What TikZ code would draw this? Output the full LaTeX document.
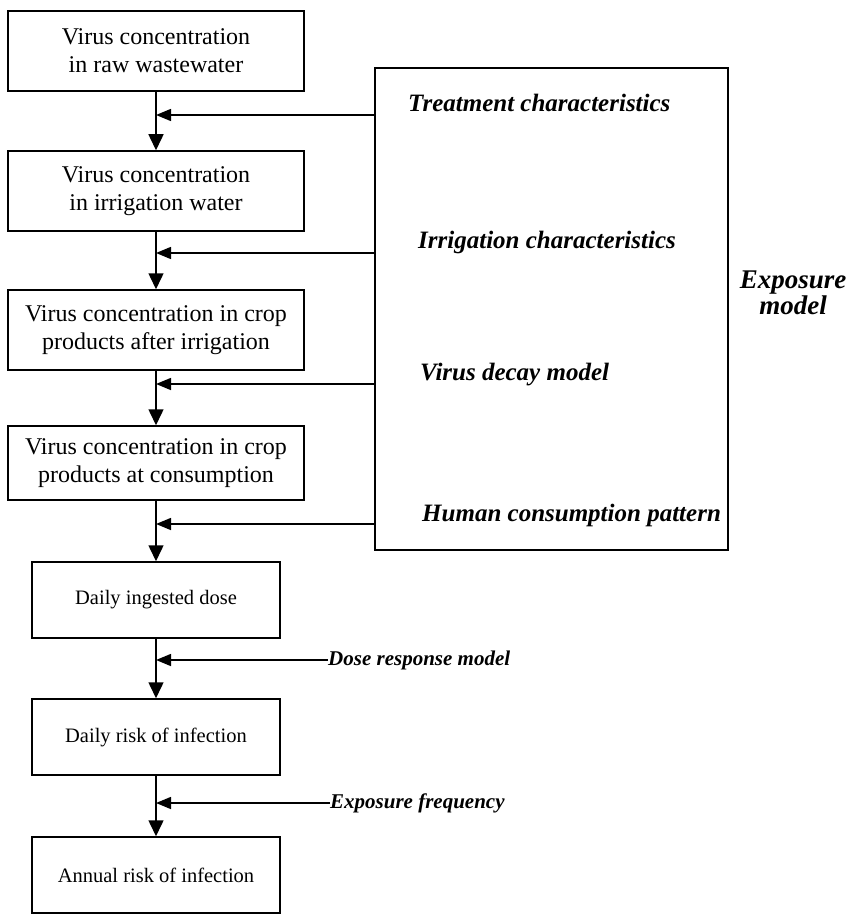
\documentclass[tikz,border=0pt]{standalone}
\usepackage{fontspec}
\setmainfont{Liberation Serif}
\usetikzlibrary{arrows.meta,calc}
\tikzstyle{stepbox}=[draw,line width=1.5pt,minimum width=296pt,minimum height=80pt,align=center,inner sep=0pt,font=\fontsize{24}{28}\selectfont]
\tikzstyle{smallbox}=[stepbox,minimum width=248pt,minimum height=76pt,font=\fontsize{20.5}{25}\selectfont]
\tikzstyle{flow}=[line width=1.5pt,-{Triangle[width=15pt,length=16pt]}]
\tikzstyle{feed}=[line width=1.5pt,-{Triangle[width=12pt,length=15pt]}]
\tikzstyle{factor}=[anchor=west,inner sep=0pt,font=\fontsize{25}{29}\selectfont\bfseries\itshape]
\tikzstyle{extfactor}=[factor,font=\fontsize{21}{25}\selectfont\bfseries\itshape]
\newcommand{\feedback}[3]{% Syntax: {name}{y of line}{box the arrow points at}
	\coordinate (#1) at (expo.west |- 0,#2);
	\draw[feed] (#1) -- (#1 -| #3);
}

\begin{document}
\begin{tikzpicture}[x=1pt,y=-1pt]
	\useasboundingbox (0,0) rectangle (851,917);
	% chain of steps
	\node[stepbox] (raw) at (156,51) {Virus concentration\\in raw wastewater};
	\node[stepbox] (irr) at (156,191) {Virus concentration\\in irrigation water};
	\node[stepbox] (crop) at (156,330) {Virus concentration in crop\\products after irrigation};
	\node[stepbox,minimum height=74pt] (cons) at (156,463) {Virus concentration in crop\\products at consumption};
	\node[smallbox] (dose) at (156,600) {Daily ingested dose};
	\node[smallbox] (daily) at (156,737) {Daily risk of infection};
	\node[smallbox] (annual) at (156,875) {Annual risk of infection};
	\draw[flow] (raw.south) -- (irr.north);
	\draw[flow] (irr.south) -- (crop.north);
	\draw[flow] (crop.south) -- (cons.north);
	\draw[flow] (cons.south) -- (dose.north);
	\draw[flow] (dose.south) -- (daily.north);
	\draw[flow] (daily.south) -- (annual.north);
	% exposure model
	\node[draw,line width=2.2pt,minimum width=353pt,minimum height=482pt,inner sep=0pt] (expo) at (551.5,309) {};
	\node[factor] (treat) at (408,103) {Treatment characteristics};
	\node[factor] (irrchar) at (418,242) {Irrigation characteristics};
	\node[factor] (decay) at (420,375) {Virus decay model};
	\node[factor] (human) at (422,515) {Human consumption pattern};
	\node[align=center,inner sep=0pt,font=\fontsize{27}{21}\selectfont\bfseries\itshape] (expolabel) at (793,293) {Exposure\\model};
	\feedback{ftreat}{115}{raw}
	\feedback{firr}{253}{irr}
	\feedback{fdecay}{384}{crop}
	\feedback{fhuman}{524}{cons}
	% dose response
	\node[extfactor] (resp) at (328,660) {Dose response model};
	\node[extfactor] (freq) at (330,803) {Exposure frequency};
	\draw[feed] (resp.west) -- (resp.west -| dose);
	\draw[feed] (freq.west) -- (freq.west -| daily);
\end{tikzpicture}
\end{document}
